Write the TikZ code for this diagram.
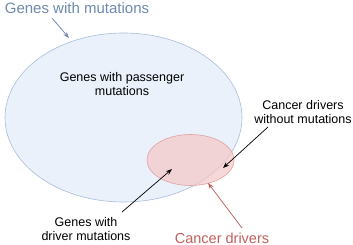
\documentclass[tikz,border=0pt]{standalone}
\usepackage{fontspec}
\setmainfont{Liberation Sans}
\usetikzlibrary{arrows.meta,shapes.geometric}

\definecolor{azulfundo}{HTML}{EAF1FB}
\definecolor{azulborda}{HTML}{A9BCD8}
\definecolor{azultexto}{HTML}{6F89AE}
\definecolor{rosafundo}{HTML}{F4C6C6}
\definecolor{rosaborda}{HTML}{E0A2A2}
\definecolor{vermelhotexto}{HTML}{C0605C}

\begin{document}
\begin{tikzpicture}[
x=1pt, y=-1pt,
conjunto/.style={ellipse, draw, line width=0.6pt, inner sep=0pt},
rotulo/.style={align=center, font=\fontsize{12.5}{14}\selectfont, inner sep=0pt},
seta/.style={-{Stealth[length=2.2mm,width=1.6mm]}, line width=0.7pt}
]
\useasboundingbox (0,0) rectangle (353,245);
% conjuntos
\node[conjunto, fill=azulfundo, draw=azulborda, minimum width=237pt, minimum height=169pt] (mutadas) at (123.5,117.5) {};
\node[conjunto, fill=rosafundo, draw=rosaborda, fill opacity=0.7, minimum width=87pt, minimum height=51pt] (drivers) at (190.5,160) {};
% rotulos
\node[rotulo, text=azultexto, font=\fontsize{15}{17}\selectfont] (mutlbl) at (77,8.5) {Genes with mutations};
\node[rotulo] (passlbl) at (122,84) {Genes with passenger\\mutations};
\node[rotulo] (semmut) at (303,112) {Cancer drivers\\without mutations};
\node[rotulo] (drvmut) at (86,229) {Genes with\\driver mutations};
\node[rotulo, text=vermelhotexto, font=\fontsize{14.5}{17}\selectfont] (drvlbl) at (222,238) {Cancer drivers};
% pontas das setas
\coordinate (mutcauda) at (52,18);
\coordinate (mutponta) at (69,38);
\coordinate (semcauda) at (268,127);
\coordinate (semponta) at (223,168);
\coordinate (drvcauda) at (122,212);
\coordinate (drvponta) at (172,169);
\coordinate (redcauda) at (242,228);
\coordinate (redponta) at (208,183);
\draw[seta, draw=azultexto, fill=azultexto] (mutcauda) -- (mutponta);
\draw[seta] (semcauda) -- (semponta);
\draw[seta] (drvcauda) -- (drvponta);
\draw[seta, draw=vermelhotexto, fill=vermelhotexto] (redcauda) -- (redponta);
\end{tikzpicture}
\end{document}
